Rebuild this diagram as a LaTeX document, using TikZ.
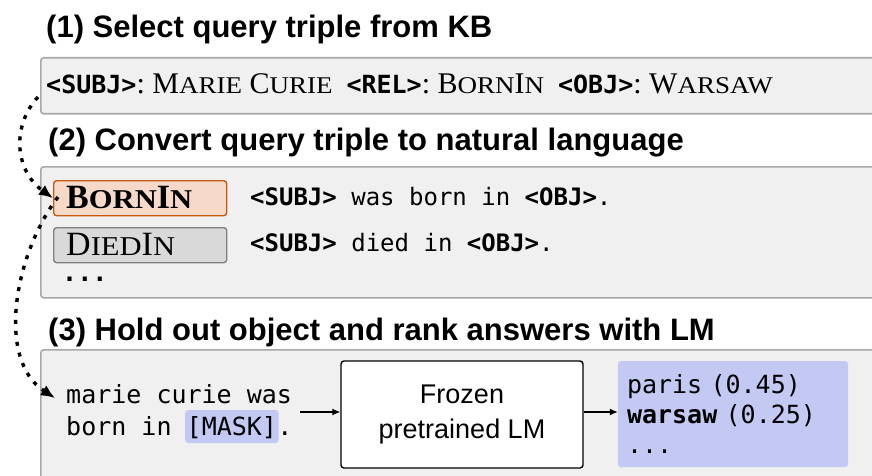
\documentclass[tikz,border=0pt]{standalone}
\usepackage{fontspec}
\usepackage{graphicx}
\usetikzlibrary{arrows.meta,positioning,calc}
\newfontfamily\headfont{Liberation Sans}
\newfontfamily\codefont{DejaVu Sans Mono}
\newfontfamily\timesfont{Liberation Serif}
% kapitaelchen von hand
\newcommand\smc[1]{\scalebox{0.9}[0.8]{#1}}
\definecolor{panelgray}{HTML}{F0F0F0}
\definecolor{panelline}{HTML}{A8A8A8}
\definecolor{relorange}{HTML}{F6D9C9}
\definecolor{reledge}{HTML}{C55A11}
\definecolor{relgray}{HTML}{D9D9D9}
\definecolor{maskblue}{HTML}{C3C9F3}
\tikzset{
  panel/.style={draw=panelline, fill=panelgray, line width=1.6pt, rounded corners=3pt, anchor=north west, inner sep=0pt},
  steptitle/.style={anchor=base west, inner sep=0pt, font=\headfont\bfseries\fontsize{31}{34}\selectfont},
  reltag/.style={anchor=north west, minimum width=173pt, minimum height=35pt, rounded corners=3pt, line width=1.4pt, inner sep=0pt},
  codeline/.style={anchor=base west, inner sep=0pt, font=\codefont\fontsize{24}{30}\selectfont},
  querytxt/.style={codeline, font=\codefont\fontsize{25}{30}\selectfont},
  dotlink/.style={line width=3.4pt, dash pattern=on 4pt off 7pt, -{Latex[length=14pt,width=12pt]}},
  flow/.style={line width=1.2pt, -{Latex[length=8pt,width=7pt]}}
}
\begin{document}
\begin{tikzpicture}[x=1pt,y=-1pt]
\useasboundingbox (0,0) rectangle (872,476);
\clip (0,0) rectangle (872,476);

% (1) triple aus der KB
\node[steptitle] (title1) at (46,38) {(1) Select query triple from KB};
\node[panel, minimum width=860pt, minimum height=56pt] (kb) at (40,57) {};
\node[anchor=base west, inner sep=0pt, font=\fontsize{30}{34}\selectfont] (triple) at (46,94)
  {{\codefont\bfseries\fontsize{25}{30}\selectfont <SUBJ>}\timesfont:\ M\smc{ARIE} C\smc{URIE}\hspace{14pt}{\codefont\bfseries\fontsize{25}{30}\selectfont <REL>}:\ B\smc{ORN}I\smc{N}\hspace{14pt}{\codefont\bfseries\fontsize{25}{30}\selectfont <OBJ>}:\ W\smc{ARSAW}};

% (2) templates
\node[steptitle] (title2) at (48,150) {(2) Convert query triple to natural language};
\node[panel, minimum width=860pt, minimum height=131pt] (tmpl) at (40,166) {};
\node[reltag, draw=reledge, fill=relorange] (bornin) at (53,180) {};
\node[anchor=base west, inner sep=0pt, font=\timesfont\bfseries\fontsize{34}{36}\selectfont] (bornintxt) at (66,208) {B\smc{ORN}I\smc{N}};
\node[reltag, draw=gray, fill=relgray] (diedin) at (53,227) {};
\node[anchor=base west, inner sep=0pt, font=\timesfont\fontsize{34}{36}\selectfont] (diedintxt) at (66,255) {D\smc{IED}I\smc{N}};
\node[codeline, font=\codefont\bfseries\fontsize{25}{30}\selectfont] (moretmpl) at (62,281) {...};
\node[codeline] (bornline) at (250,205) {\textbf{<SUBJ>} was born in \textbf{<OBJ>}.};
\node[codeline] (diedline) at (250,251) {\textbf{<SUBJ>} died in \textbf{<OBJ>}.};

% (3) LM abfragen
\node[steptitle] (title3) at (48,340) {(3) Hold out object and rank answers with LM};
\node[panel, minimum width=860pt, minimum height=160pt] (probe) at (40,349) {};
\node[querytxt] (query1) at (66,403) {marie curie was};
\node[querytxt] (query2) at (66,435) {born in};
\node[querytxt, fill=maskblue, rounded corners=3pt, inner xsep=1.5pt, inner ysep=0pt, text depth=8pt, text height=25pt] (mask) at ($(query2.base west)+(119,0)$) {[MASK]};
\node[querytxt] (stop) at ($(mask.base east)+(-1.5,0)$) {.};
\node[draw, fill=white, line width=1.4pt, rounded corners=3pt, minimum width=242pt, minimum height=107pt,
  align=center, font=\headfont\fontsize{27}{35}\selectfont] (lm) at (462,414.5) {Frozen\\pretrained LM};
\node[fill=maskblue, rounded corners=3pt, minimum height=106pt, text width=212pt, inner xsep=9pt,
  align=left, font=\codefont\fontsize{25}{30}\selectfont] (answers) at (733,414) {paris (0.45)\\\textbf{warsaw} (0.25)\\...};

\coordinate (from1) at (38,97);
\coordinate (from2) at (58,197);
\coordinate (into3) at (55,398);
\draw[flow] ([xshift=8pt]query1.east |- 0,412) -- (lm.west |- 0,412);
\draw[flow] (lm.east |- 0,412) -- (answers.west |- 0,412);

% gepunktete verbindungen
\draw[dotlink] (from1) .. controls (12,125) and (14,170) .. (bornin.west);
\draw[dotlink] (from2) .. controls (14,255) and (-4,360) .. (into3);
\end{tikzpicture}
\end{document}
